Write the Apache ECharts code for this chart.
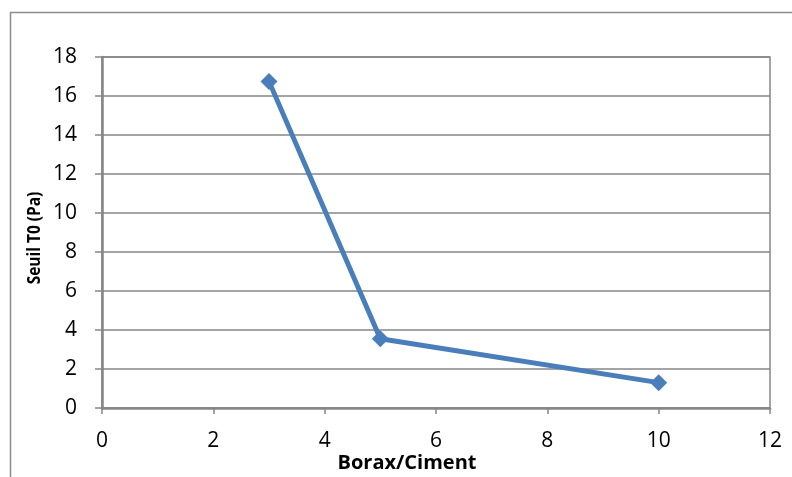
<!DOCTYPE html>
<html>
<head>
<meta charset="utf-8">
<script src="https://cdn.jsdelivr.net/npm/echarts@6/dist/echarts.min.js"></script>
<style>
  html, body { margin: 0; padding: 0; background: #fff; }
  #chart { width: 792px; height: 477px; }
</style>
</head>
<body>
<div id="chart"></div>
<script>
// data
var xValues = [3, 5, 10];
var seuilValues = [16.75, 3.55, 1.3];
var xTitle = 'Borax/Ciment';
var yTitle = 'Seuil T0 (Pa)';

var blue = '#4a7ebb';
var gray = '#868686';
var font = 'Open Sans';

var chart = echarts.init(document.getElementById('chart'));

chart.setOption({
    backgroundColor: '#fff',
    animation: false,
    graphic: [
        {
            type: 'rect',
            shape: { x: 10.5, y: 12.5, width: 800, height: 500 },
            style: { fill: 'none', stroke: '#8c8c8c', lineWidth: 1.5 },
            silent: true
        },
        // axis titles
        {
            type: 'text',
            x: 407,
            y: 463,
            style: {
                text: xTitle, fontFamily: font, fontWeight: 'bold', fontSize: 20,
                fill: '#000', align: 'center', verticalAlign: 'middle'
            }
        },
        {
            type: 'text',
            x: 35,
            y: 238,
            rotation: Math.PI / 2,
            scaleX: 0.86,
            style: {
                text: yTitle, fontFamily: font, fontWeight: 'bold', fontSize: 18,
                fill: '#000', align: 'center', verticalAlign: 'middle'
            }
        }
    ],
    grid: {
        left: 102,
        right: 22,
        top: 57,
        bottom: 69,
        outerBoundsMode: 'none',
        show: true,
        borderColor: gray,
        borderWidth: 1.5
    },
    xAxis: {
        type: 'value',
        min: 0,
        max: 12,
        interval: 2,
        axisLine: { show: true, lineStyle: { color: gray, width: 2.5 } },
        axisTick: { show: true, inside: false, length: 6, lineStyle: { color: gray, width: 1.5 } },
        axisLabel: { fontFamily: font, fontSize: 21, color: '#000', margin: 23 },
        splitLine: { show: false }
    },
    yAxis: {
        type: 'value',
        min: 0,
        max: 18,
        interval: 2,
        axisLine: { show: true, lineStyle: { color: gray, width: 2.5 } },
        axisTick: { show: true, inside: false, length: 7, lineStyle: { color: gray, width: 1.5 } },
        axisLabel: { fontFamily: font, fontSize: 21, color: '#000', margin: 25 },
        splitLine: { show: true, lineStyle: { color: gray, width: 1.5 } }
    },
    series: [
        {
            type: 'line',
            data: xValues.map(function (x, i) { return [x, seuilValues[i]]; }),
            symbol: 'diamond',
            symbolSize: 17,
            lineStyle: { color: blue, width: 5 },
            itemStyle: { color: blue },
            z: 5
        }
    ]
});
</script>
</body>
</html>
